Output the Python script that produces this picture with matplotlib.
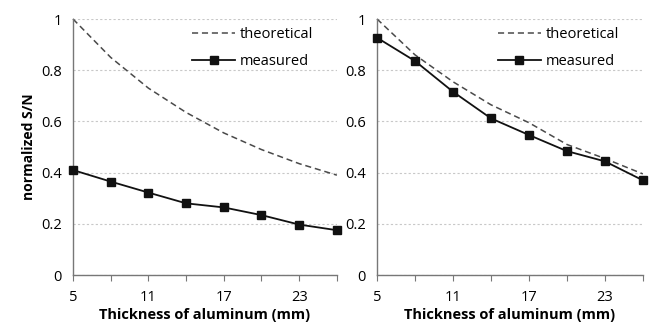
import matplotlib
matplotlib.use("Agg")
import matplotlib.pyplot as plt

plt.rcParams['font.family'] = ['Open Sans', 'DejaVu Sans']

thickness = [5, 8, 11, 14, 17, 20, 23, 26]
tick_labels = ['5', '', '11', '', '17', '', '23', '']
theoretical_left = [1.0, 0.85, 0.73, 0.635, 0.555, 0.49, 0.435, 0.39]
theoretical_right = [1.0, 0.86, 0.755, 0.665, 0.595, 0.51, 0.455, 0.395]
measured_left = [0.41, 0.365, 0.322, 0.28, 0.264, 0.234, 0.197, 0.175]
measured_right = [0.927, 0.836, 0.716, 0.612, 0.547, 0.484, 0.444, 0.37]

fig = plt.figure(figsize=(6.5, 3.26), dpi=100)
ax1 = fig.add_axes([0.1123, 0.1564, 0.406, 0.7853])
ax2 = fig.add_axes([0.58, 0.1564, 0.409, 0.7853])

panels = [(ax1, theoretical_left, measured_left),
          (ax2, theoretical_right, measured_right)]
for ax, theo, meas in panels:
    ax.plot(thickness, theo, linestyle=(0, (4, 2.5)), color='#4a4a4a',
            linewidth=1.1, label='theoretical', clip_on=False)
    ax.plot(thickness, meas, color='#111111', linewidth=1.3, marker='s',
            markersize=5.2, label='measured', clip_on=False, zorder=3)
    ax.set_xlim(5, 26)
    ax.set_ylim(0, 1)
    ax.set_xticks(thickness)
    ax.set_xticklabels(tick_labels)
    ax.set_yticks([0, 0.2, 0.4, 0.6, 0.8, 1.0])
    ax.set_yticklabels(['0', '0.2', '0.4', '0.6', '0.8', '1'])
    ax.tick_params(axis='y', length=0, labelsize=10.5, pad=8)
    ax.tick_params(axis='x', direction='out', length=4, color='#777777',
                   labelsize=10.5, pad=7)
    ax.grid(axis='y', linestyle=(0, (2, 2)), color='#c8c8c8', linewidth=0.8)
    ax.set_axisbelow(True)
    for s in ['top', 'right']:
        ax.spines[s].set_visible(False)
    for s in ['left', 'bottom']:
        ax.spines[s].set_color('#777777')
        ax.spines[s].set_linewidth(1.0)
    ax.set_xlabel('Thickness of aluminum (mm)', fontsize=10.5,
                  fontweight='bold', labelpad=2)
    ax.legend(loc='upper right', frameon=False, fontsize=10.5,
              handlelength=3.0, handletextpad=0.3, labelspacing=0.85,
              bbox_to_anchor=(0.96, 1.02))

ax1.set_ylabel('normalized S/N', fontsize=10, fontweight='bold', labelpad=4)

fig.savefig('out.png', dpi=100)
